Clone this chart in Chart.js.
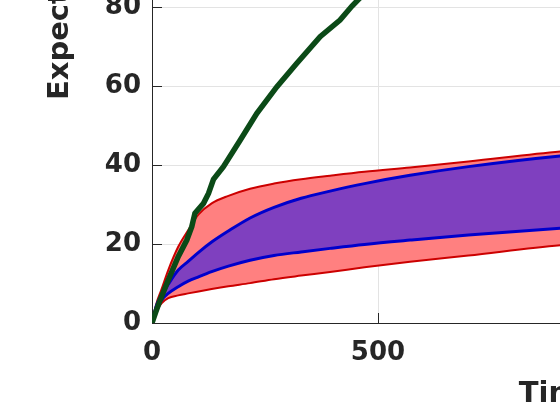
<!DOCTYPE html>
<html>
<head>
<meta charset="utf-8">
<script src="https://cdn.jsdelivr.net/npm/chart.js@4"></script>
<style>
  html, body { margin: 0; padding: 0; background: #fff; overflow: hidden; width: 560px; height: 420px; }
  #wrap { position: absolute; left: 0; top: -372px; width: 1056px; height: 795px; }
</style>
</head>
<body>
<div id="wrap"><canvas id="chart" width="1056" height="795"></canvas></div>
<script>
// Band curves share one time grid
const bandTime  = [0, 10, 21, 36, 58, 80, 103, 132, 169, 217, 270, 330, 394, 470, 571, 700, 903, 1200, 1600, 2000];
const redUpper  = [0, 5.0, 8.5, 13.4, 19.3, 23.5, 27.5, 30.3, 32.2, 34.0, 35.3, 36.4, 37.3, 38.3, 39.4, 40.9, 43.4, 46.0, 49.0, 52.0];
const blueUpper = [0, 4.5, 7.0, 9.8, 13.4, 15.6, 17.9, 20.5, 23.3, 26.6, 29.3, 31.6, 33.4, 35.3, 37.4, 39.6, 42.3, 45.0, 48.0, 51.0];
const blueLower = [0, 3.5, 5.8, 7.5, 9.2, 10.6, 11.7, 13.0, 14.4, 15.9, 17.1, 18.0, 18.9, 19.9, 21.0, 22.3, 24.0, 26.0, 28.0, 30.0];
const redLower  = [0, 3.0, 5.0, 6.3, 7.0, 7.5, 8.0, 8.6, 9.3, 10.1, 11.1, 12.0, 12.9, 14.1, 15.5, 17.1, 19.7, 22.0, 25.0, 28.0];

// Simulated run (green)
const greenTime  = [0, 9, 18, 36, 58, 77, 88, 95, 114, 125, 136, 158, 195, 232, 276, 320, 372, 416, 442, 470, 520, 600, 700];
const greenValue = [0, 3.0, 5.8, 10.9, 16.8, 21.0, 24.4, 27.8, 30.3, 32.8, 36.4, 39.6, 46.3, 53.1, 59.8, 65.7, 72.5, 76.7, 80.2, 83.5, 89.0, 97.0, 106.0];

const xMax = 2000;
const yMax = 176;
const xTitle = 'Time (sec)';
const yTitle = 'Expected value';

const textColor = '#262626';
const tickFont = { family: 'DejaVu Sans', size: 26, weight: 'bold' };
const titleFont = { family: 'DejaVu Sans', size: 29, weight: 'bold' };

const toPoints = (xs, ys) => xs.map((x, i) => ({ x: x, y: ys[i] }));

function makeLine(data, color, width, extra) {
    return Object.assign({
        data: data,
        borderColor: color,
        borderWidth: width,
        pointRadius: 0,
        fill: false,
        cubicInterpolationMode: 'monotone'
    }, extra || {});
}

new Chart(document.getElementById('chart'), {
    type: 'line',
    data: {
        datasets: [
            makeLine(toPoints(greenTime, greenValue), '#0b4a17', 5.5, { cubicInterpolationMode: 'default', tension: 0 }),
            makeLine(toPoints(bandTime, blueUpper), '#0000cc', 3, { fill: '+1', backgroundColor: '#7f40bf' }),
            makeLine(toPoints(bandTime, blueLower), '#0000cc', 3),
            makeLine(toPoints(bandTime, redUpper), '#cc0000', 2, { fill: '+1', backgroundColor: '#ff8080' }),
            makeLine(toPoints(bandTime, redLower), '#cc0000', 2)
        ]
    },
    options: {
        responsive: false,
        animation: false,
        devicePixelRatio: 1,
        layout: { padding: 0 },
        plugins: {
            legend: { display: false },
            tooltip: { enabled: false },
            filler: { drawTime: 'beforeDatasetsDraw' }
        },
        scales: {
            x: {
                type: 'linear',
                min: 0,
                max: xMax,
                ticks: { stepSize: 500, color: textColor, font: tickFont, padding: 25, maxRotation: 0 },
                grid: { color: '#e3e3e3', tickLength: -10, tickColor: textColor },
                border: { display: true, color: textColor, width: 1 },
                title: { display: true, text: xTitle, color: textColor, font: titleFont, padding: { top: 0, bottom: 11 } },
                afterFit(scale) {
                    scale.height = 100;
                    scale.paddingLeft = 0;
                    scale.paddingRight = 0;
                }
            },
            y: {
                min: 0,
                max: yMax,
                ticks: { stepSize: 20, color: textColor, font: tickFont, padding: 21 },
                grid: { color: '#e3e3e3', tickLength: -10, tickColor: textColor },
                border: { display: true, color: textColor, width: 1 },
                title: { display: true, text: yTitle, color: textColor, font: titleFont, padding: { top: 43, bottom: 0 } },
                afterFit(scale) {
                    scale.width = 152;
                    scale.paddingTop = 0;
                    scale.paddingBottom = 0;
                }
            }
        }
    }
});
</script>
</body>
</html>
